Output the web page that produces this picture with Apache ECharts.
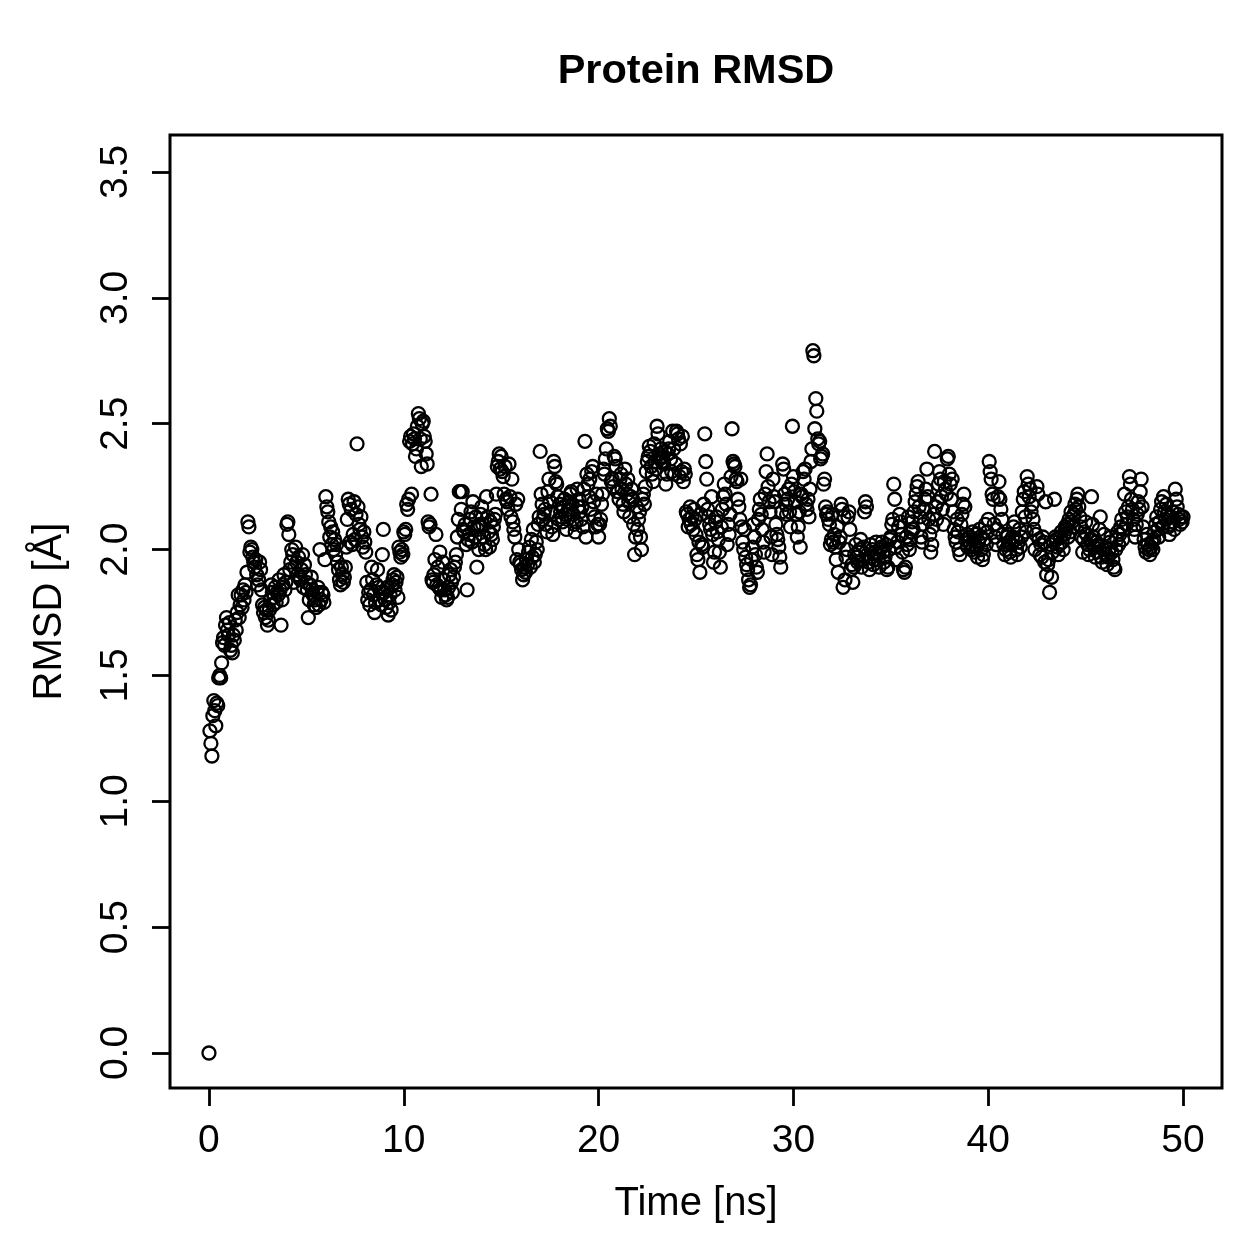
<!DOCTYPE html>
<html>
<head>
<meta charset="utf-8">
<script src="https://cdn.jsdelivr.net/npm/echarts@6/dist/echarts.min.js"></script>
<style>
html,body{margin:0;padding:0;background:#fff;}
#chart{width:1259px;height:1259px;}
</style>
</head>
<body>
<div id="chart"></div>
<script>
// Sampling interval of the trajectory (ns)
const timeStep = 0.05;

// RMSD values (Å), 0–10 ns
const rmsd00to10 = [
  0.00,1.28,1.23,1.18,1.34,1.40,1.36,1.30,1.39,1.38,1.49,1.50,1.49,1.55,1.63,1.65,1.62,1.70,1.73,1.68,
  1.66,1.71,1.60,1.62,1.59,1.66,1.64,1.72,1.68,1.75,1.82,1.73,1.78,1.82,1.77,1.84,1.80,1.86,1.83,1.91,
  2.11,2.09,1.99,2.01,2.00,1.97,1.95,1.93,1.96,1.90,1.86,1.88,1.95,1.92,1.84,1.78,1.75,1.77,1.73,1.76,
  1.70,1.72,1.76,1.80,1.86,1.83,1.78,1.81,1.85,1.79,1.83,1.82,1.88,1.84,1.70,1.80,1.86,1.90,1.84,1.87,
  2.10,2.11,2.06,1.92,1.95,2.00,1.98,1.87,1.93,2.01,1.95,1.90,1.97,1.89,1.88,1.92,1.98,1.85,1.94,1.90,
  1.87,1.84,1.73,1.80,1.86,1.89,1.84,1.82,1.78,1.80,1.77,1.83,1.85,1.78,2.00,1.80,1.83,1.82,1.79,1.96,
  2.21,2.17,2.15,2.11,2.05,2.09,2.02,2.07,2.00,2.04,1.98,2.02,1.95,1.92,1.88,1.86,1.93,1.90,1.87,1.89,
  1.93,2.01,2.12,2.20,2.18,2.03,2.16,2.02,2.06,2.19,2.04,2.14,2.42,2.17,2.10,2.08,2.13,2.05,2.01,2.07,
  2.03,1.99,1.87,1.80,1.83,1.78,1.84,1.93,1.88,1.82,1.75,1.79,1.86,1.92,1.85,1.80,1.83,1.78,1.98,2.08,
  1.83,1.80,1.77,1.85,1.74,1.79,1.82,1.76,1.86,1.88,1.90,1.84,1.87,1.89,1.81,2.01,1.99,1.97,2.00,1.98
];
// 10–20 ns
const rmsd10to20 = [
  2.07,2.06,2.08,2.18,2.16,2.20,2.43,2.45,2.22,2.42,2.46,2.44,2.37,2.40,2.49,2.54,2.52,2.44,2.33,2.50,
  2.51,2.45,2.43,2.38,2.34,2.11,2.09,2.10,2.22,1.88,1.87,1.90,1.96,2.06,1.86,1.93,1.85,1.99,1.84,1.81,
  1.95,1.88,1.84,1.82,1.80,1.81,1.85,1.90,1.92,1.87,1.83,1.89,1.93,1.95,1.98,2.05,2.12,2.23,2.23,2.16,
  2.23,2.08,2.07,2.10,2.02,1.84,2.04,2.06,2.12,2.15,2.03,2.19,2.09,2.05,2.13,1.93,2.08,2.00,2.10,2.14,
  2.17,2.10,2.05,2.02,2.00,2.21,2.13,2.07,2.01,2.11,2.06,2.04,2.09,2.12,2.14,2.22,2.33,2.35,2.38,2.32,
  2.37,2.31,2.29,2.22,2.33,2.20,2.19,2.16,2.34,2.21,2.13,2.28,2.11,2.08,2.05,2.18,1.96,2.20,2.00,1.95,
  1.94,1.92,1.88,1.90,1.93,1.91,1.96,1.94,1.99,2.01,1.93,2.04,1.97,2.08,1.95,1.98,2.03,2.00,2.10,2.13,
  2.39,2.22,2.18,2.12,2.14,2.16,2.10,2.07,2.23,2.28,2.19,2.15,2.09,2.06,2.35,2.33,2.27,2.26,2.21,2.12,
  2.18,2.15,2.13,2.11,2.17,2.20,2.14,2.08,2.12,2.16,2.19,2.22,2.23,2.18,2.14,2.10,2.07,2.11,2.24,2.17,
  2.20,2.15,2.12,2.17,2.09,2.24,2.43,2.05,2.30,2.26,2.21,2.28,2.16,2.31,2.33,2.19,2.13,2.09,2.22,2.10
];
// 20–30 ns
const rmsd20to30 = [
  2.05,2.10,2.12,2.18,2.22,2.32,2.30,2.36,2.40,2.48,2.47,2.52,2.49,2.27,2.28,2.25,2.37,2.36,2.33,2.23,
  2.23,2.20,2.28,2.30,2.24,2.18,2.15,2.32,2.26,2.22,2.28,2.19,2.13,2.21,2.24,2.20,2.10,1.98,2.05,2.17,
  2.08,2.12,2.15,2.05,2.00,2.20,2.22,2.18,2.25,2.31,2.35,2.37,2.41,2.39,2.33,2.30,2.27,2.42,2.35,2.32,
  2.49,2.46,2.38,2.36,2.40,2.35,2.37,2.34,2.39,2.26,2.30,2.38,2.40,2.43,2.36,2.31,2.47,2.40,2.30,2.34,
  2.47,2.46,2.44,2.29,2.42,2.31,2.45,2.27,2.32,2.30,2.15,2.14,2.09,2.12,2.17,2.10,2.13,2.08,2.16,2.12,
  2.06,1.98,1.96,2.03,1.91,2.14,2.02,2.01,2.18,2.46,2.35,2.28,2.16,2.13,2.10,2.08,2.21,2.06,1.95,1.99,
  2.11,2.13,2.07,2.04,1.99,1.93,2.09,2.16,2.21,2.26,2.22,2.18,2.02,2.10,2.06,2.14,2.29,2.48,2.35,2.34,
  2.33,2.28,2.27,2.20,2.17,2.12,2.28,2.09,2.03,2.00,2.08,1.97,1.94,1.92,1.88,1.85,1.86,1.96,2.01,2.10,
  2.05,1.98,1.93,1.91,2.12,2.16,2.20,2.14,2.08,2.03,1.99,2.22,2.31,2.38,2.25,2.19,2.15,2.05,1.98,2.28,
  2.21,2.19,2.10,2.06,2.04,2.01,1.97,1.93,2.15,2.34,2.32,2.22,2.18,2.14,2.20,2.24,2.15,2.09,2.26,2.49
];
// 30–40 ns
const rmsd30to40 = [
  2.29,2.23,2.19,2.14,2.05,2.09,2.15,2.01,2.22,2.21,2.31,2.28,2.32,2.18,2.16,2.20,2.13,2.24,2.35,2.40,
  2.79,2.77,2.48,2.60,2.55,2.44,2.42,2.43,2.36,2.37,2.38,2.26,2.28,2.17,2.14,2.15,2.12,2.10,2.02,2.04,
  2.14,2.03,2.06,2.01,1.96,2.09,1.91,2.03,2.05,2.18,2.16,1.85,2.13,1.88,1.97,2.00,2.13,2.15,2.08,1.92,
  1.94,1.87,1.93,1.98,2.02,1.97,1.95,1.99,2.00,2.04,1.93,1.96,2.01,2.15,2.19,2.17,1.98,1.95,1.92,2.02,
  1.97,2.00,1.94,1.96,1.99,2.03,1.98,1.96,1.93,2.00,2.01,2.03,1.99,1.95,1.97,2.02,1.92,1.93,2.00,2.04,
  2.05,2.10,2.12,2.26,2.20,2.01,1.96,2.03,2.09,2.14,2.11,2.06,1.99,1.92,1.91,1.93,2.05,2.02,2.13,2.00,
  2.04,2.07,2.11,2.08,2.15,2.19,2.22,2.25,2.27,2.17,2.13,2.05,2.03,2.10,2.16,2.20,2.24,2.32,2.21,2.12,
  2.06,1.99,2.02,2.09,2.14,2.39,2.17,2.12,2.19,2.26,2.31,2.28,2.21,2.16,2.10,2.27,2.24,2.22,2.36,2.37,
  2.30,2.26,2.20,2.28,2.15,2.08,2.05,2.03,2.12,2.07,2.00,1.98,2.10,2.14,2.18,2.22,2.17,2.04,2.06,2.01,
  2.03,2.05,2.02,2.00,2.07,2.04,1.99,2.06,2.01,1.97,2.03,2.08,2.05,2.00,1.96,1.98,2.04,2.10,2.02,2.07
];
// 40–50 ns (last value is the frame at 50 ns)
const rmsd40to50 = [
  2.12,2.35,2.31,2.28,2.22,2.20,2.10,2.05,2.02,2.08,2.21,2.27,2.20,2.16,2.12,2.06,2.02,1.98,2.00,2.05,
  2.06,2.03,1.99,1.97,2.02,2.05,2.09,2.11,2.04,2.00,1.98,2.03,2.08,2.01,2.05,2.15,2.20,2.23,2.13,2.07,
  2.29,2.26,2.21,2.24,2.15,2.18,2.12,2.08,2.00,2.06,2.25,2.22,2.04,1.98,2.02,1.97,2.05,2.03,1.95,2.19,
  1.90,1.94,1.96,1.83,2.02,1.89,1.99,2.03,2.20,2.05,2.04,2.01,1.98,2.02,2.05,2.07,2.03,2.00,2.06,2.09,
  2.08,2.10,2.05,2.12,2.07,2.15,2.11,2.09,2.14,2.18,2.16,2.20,2.22,2.17,2.13,2.09,2.05,1.99,2.04,2.07,
  2.11,2.06,2.02,1.98,2.00,2.04,2.21,2.10,2.05,2.01,1.97,2.03,1.99,2.02,2.08,2.13,1.97,1.95,2.00,2.06,
  2.01,1.98,1.94,1.97,2.00,2.03,2.05,1.99,1.96,1.93,1.92,2.00,2.04,2.07,2.02,2.06,2.09,2.12,2.04,2.08,
  2.22,2.15,2.10,2.13,2.17,2.29,2.26,2.20,2.16,2.12,2.08,2.05,2.10,2.14,2.19,2.16,2.23,2.28,2.17,2.09,
  2.04,2.01,1.99,2.06,2.02,2.00,1.98,2.01,2.03,2.00,2.04,2.07,2.10,2.13,2.08,2.05,2.11,2.16,2.19,2.09,
  2.21,2.15,2.12,2.18,2.14,2.09,2.06,2.10,2.13,2.15,2.11,2.08,2.24,2.20,2.17,2.14,2.12,2.10,2.13,2.11,
  2.13
];

const xTicks = [0, 10, 20, 30, 40, 50];
const yTicks = [0, 0.5, 1.0, 1.5, 2.0, 2.5, 3.0, 3.5];

const rmsdAll = [].concat(rmsd00to10, rmsd10to20, rmsd20to30, rmsd30to40, rmsd40to50);
const points = rmsdAll.map((v, i) => [+(i * timeStep).toFixed(2), v]);

const FONT = 'Liberation Sans, Arial, Helvetica, sans-serif';
const chart = echarts.init(document.getElementById('chart'), null, { renderer: 'canvas' });
chart.setOption({
  animation: false,
  backgroundColor: '#fff',
  title: {
    text: 'Protein RMSD',
    left: 691, top: 46, textAlign: 'center',
    textStyle: { fontFamily: FONT, fontWeight: 'bold', fontSize: 41.5, color: '#000' }
  },
  grid: {
    left: 170, top: 135, width: 1052, height: 953,
    show: true, borderColor: '#000', borderWidth: 3, backgroundColor: 'transparent'
  },
  xAxis: {
    type: 'value', min: -2, max: 52,
    name: 'Time [ns]', nameLocation: 'middle', nameGap: 96,
    nameTextStyle: { fontFamily: FONT, fontSize: 40, color: '#000' },
    axisLine: { show: false, onZero: false },
    axisTick: { show: true, inside: false, length: 18, customValues: xTicks, lineStyle: { color: '#000', width: 2.8 } },
    axisLabel: { customValues: xTicks, margin: 34, fontFamily: FONT, fontSize: 39, color: '#000' },
    splitLine: { show: false }
  },
  yAxis: {
    type: 'value', min: -0.139, max: 3.647,
    name: 'RMSD [Å]', nameLocation: 'middle', nameRotate: 90, nameGap: 100,
    nameTextStyle: { fontFamily: FONT, fontSize: 40, color: '#000' },
    axisLine: { show: false, onZero: false },
    axisTick: { show: true, inside: false, length: 18, customValues: yTicks, lineStyle: { color: '#000', width: 2.8 } },
    axisLabel: {
      customValues: yTicks, rotate: 90, margin: 34, fontFamily: FONT, fontSize: 39, color: '#000',
      formatter: v => v.toFixed(1)
    },
    splitLine: { show: false }
  },
  series: [{
    type: 'scatter',
    data: points,
    symbol: 'circle',
    symbolSize: 13,
    silent: true,
    progressive: 0,
    itemStyle: { color: 'rgba(0,0,0,0)', borderColor: '#000', borderWidth: 2.3, opacity: 1 }
  }]
});
</script>
</body>
</html>
